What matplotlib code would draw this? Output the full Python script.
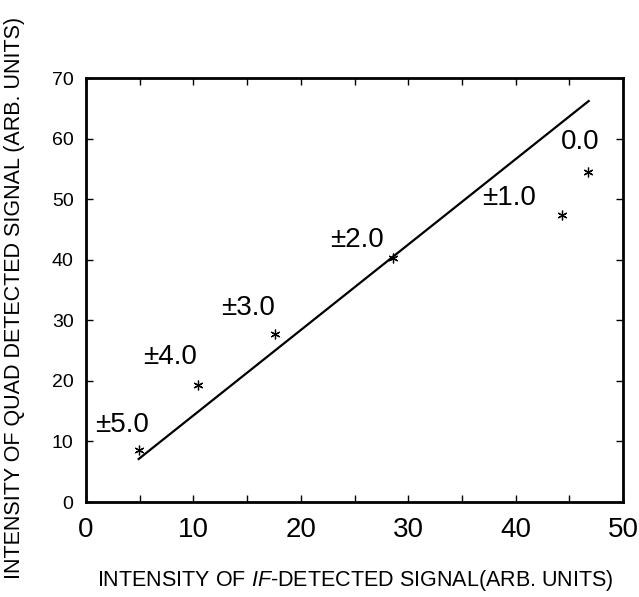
import numpy as np
import matplotlib
matplotlib.use("Agg")
import matplotlib.pyplot as plt

plt.rcParams['font.family'] = ['Liberation Sans', 'DejaVu Sans']
plt.rcParams['mathtext.fontset'] = 'custom'
plt.rcParams['mathtext.rm'] = 'Liberation Sans'
plt.rcParams['mathtext.it'] = 'Liberation Sans:italic'

# measured points (IF-detected vs quad-detected intensity)
if_signal = [4.9, 10.4, 17.6, 28.6, 44.3, 46.7]
quad_signal = [8.6, 19.3, 27.8, 40.3, 47.4, 54.5]

# fitted line end points
fit_x = [4.9, 46.8]
fit_y = [7.1, 66.2]

# offset labels
labels = ["\u00b15.0", "\u00b14.0", "\u00b13.0", "\u00b12.0", "\u00b11.0", "0.0"]
label_x = [3.4, 7.8, 15.1, 25.2, 39.4, 46.0]
label_y = [12.7, 23.9, 32.0, 43.3, 50.2, 59.4]

fig = plt.figure(figsize=(6.39, 5.97), dpi=100)
ax = fig.add_axes([0.1346, 0.1591, 0.8404, 0.7102])

ax.plot(fit_x, fit_y, color="black", lw=1.6)
ax.plot(if_signal, quad_signal, ls="none", marker=(6, 2, 0), ms=7,
        mew=0.9, color="black")

for t, x, y in zip(labels, label_x, label_y):
    ax.text(x, y, t, fontsize=20, ha="center", va="center")

ax.set_xlim(0, 50)
ax.set_ylim(0, 70)
ax.set_xticks(np.arange(0, 51, 10))
ax.set_xticks(np.arange(0, 51, 5), minor=True)
ax.set_yticks(np.arange(0, 71, 10))
ax.tick_params(axis="both", which="both", direction="in", top=True, right=True,
               length=5, width=1)
ax.tick_params(axis="x", labelsize=20, pad=11)
ax.tick_params(axis="y", labelsize=14, pad=9)
for s in ax.spines.values():
    s.set_linewidth(2)

fig.text(0.5556, 0.028, "INTENSITY OF $\\mathit{IF}$-DETECTED SIGNAL(ARB. UNITS)",
         fontsize=15.5, ha="center", va="center")
fig.text(0.0227, 0.5008, "INTENSITY OF QUAD DETECTED SIGNAL (ARB. UNITS)",
         fontsize=15.5, ha="center", va="center", rotation=90)

fig.savefig("out.png", dpi=100)
